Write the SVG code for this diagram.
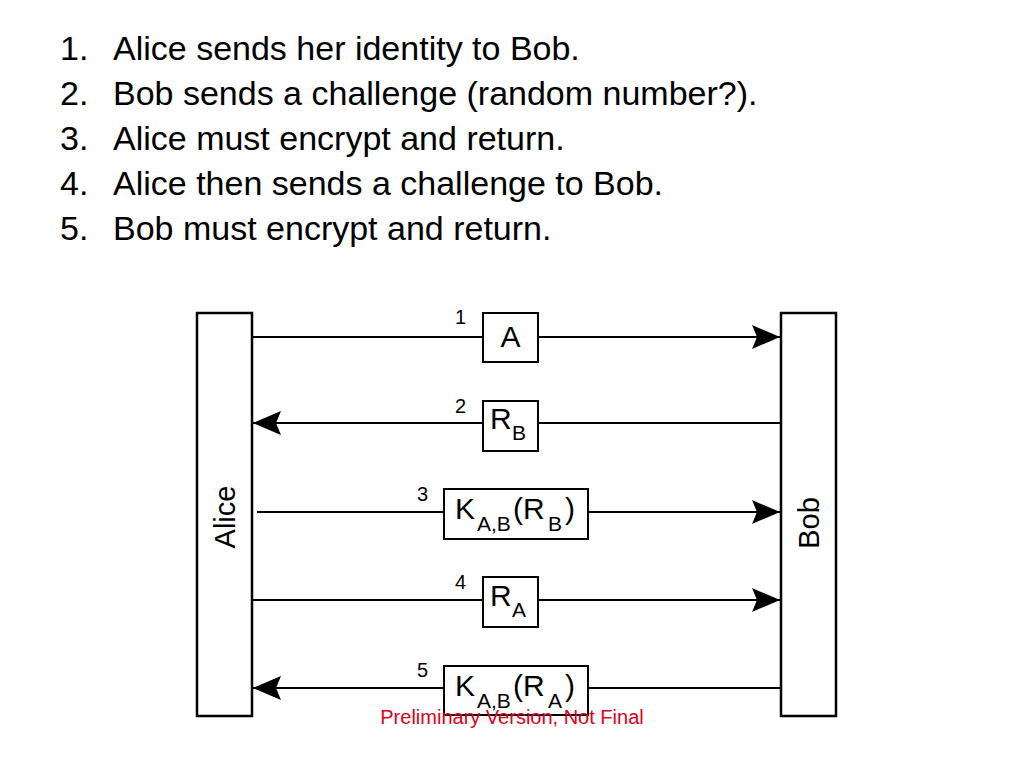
<svg xmlns="http://www.w3.org/2000/svg" width="1024" height="768" viewBox="0 0 1024 768">
<defs>
<style>
.t{font-family:"Liberation Sans",Arial,sans-serif;fill:#000}
.list{font-size:34px}
.ent{fill:#fff;stroke:#000;stroke-width:2.5}
.msg{fill:#fff;stroke:#000;stroke-width:2}
.ln{stroke:#000;stroke-width:2;fill:none}
.num{font-size:20px}
.lbl{font-size:30px}
.sub{font-size:21px}
</style>
<marker id="ah" markerUnits="userSpaceOnUse" markerWidth="30" markerHeight="26" refX="28" refY="12" orient="auto">
<path d="M0,0 L28,12 L0,24 L5,12 Z" fill="#000"/>
</marker>
</defs>
<rect width="1024" height="768" fill="#fff"/>
<g id="list" class="t list">
<text x="60" y="60">1.</text><text x="113" y="60">Alice sends her identity to Bob.</text>
<text x="60" y="105">2.</text><text x="113" y="105">Bob sends a challenge (random number?).</text>
<text x="60" y="150">3.</text><text x="113" y="150">Alice must encrypt and return.</text>
<text x="60" y="195">4.</text><text x="113" y="195">Alice then sends a challenge to Bob.</text>
<text x="60" y="240">5.</text><text x="113" y="240">Bob must encrypt and return.</text>
</g>
<g id="connectors">
<line class="ln" x1="252" y1="337" x2="780" y2="337" marker-end="url(#ah)"/>
<line class="ln" x1="780" y1="423" x2="253" y2="423" marker-end="url(#ah)"/>
<line class="ln" x1="257" y1="512" x2="780" y2="512" marker-end="url(#ah)"/>
<line class="ln" x1="252" y1="600" x2="780" y2="600" marker-end="url(#ah)"/>
<line class="ln" x1="780" y1="688" x2="253" y2="688" marker-end="url(#ah)"/>
</g>
<g id="alice">
<rect class="ent" x="197" y="313" width="55" height="403"/>
<text class="t" font-size="29" text-anchor="middle" transform="translate(235,517) rotate(-90)">Alice</text>
</g>
<g id="bob">
<rect class="ent" x="781" y="313" width="55" height="403"/>
<text class="t" font-size="29" text-anchor="middle" transform="translate(819,523) rotate(-90)">Bob</text>
</g>
<g id="m1">
<rect class="msg" x="483" y="313" width="55" height="49"/>
<text class="t lbl" x="510.5" y="347" text-anchor="middle">A</text>
<text class="t num" x="455" y="324">1</text>
</g>
<g id="m2">
<rect class="msg" x="483" y="401" width="55" height="50"/>
<text class="t lbl" x="490" y="429">R<tspan class="sub" x="512" y="440">B</tspan></text>
<text class="t num" x="455" y="413">2</text>
</g>
<g id="m3">
<rect class="msg" x="444" y="489" width="144" height="50"/>
<text class="t lbl" x="455" y="519">K<tspan class="sub" x="477" y="531">A,B</tspan><tspan x="513" y="519">(R</tspan><tspan class="sub" x="548" y="531">B</tspan><tspan x="565" y="519">)</tspan></text>
<text class="t num" x="417" y="501">3</text>
</g>
<g id="m4">
<rect class="msg" x="483" y="577" width="55" height="50"/>
<text class="t lbl" x="490" y="606">R<tspan class="sub" x="512" y="617">A</tspan></text>
<text class="t num" x="455" y="589">4</text>
</g>
<g id="m5">
<rect class="msg" x="444" y="666" width="144" height="49"/>
<text class="t lbl" x="455" y="696">K<tspan class="sub" x="477" y="708">A,B</tspan><tspan x="513" y="696">(R</tspan><tspan class="sub" x="548" y="708">A</tspan><tspan x="565" y="696">)</tspan></text>
<text class="t num" x="417" y="677">5</text>
</g>
<text class="t" x="512" y="724" font-size="20" style="fill:#e2001a" text-anchor="middle">Preliminary Version, Not Final</text>
</svg>
